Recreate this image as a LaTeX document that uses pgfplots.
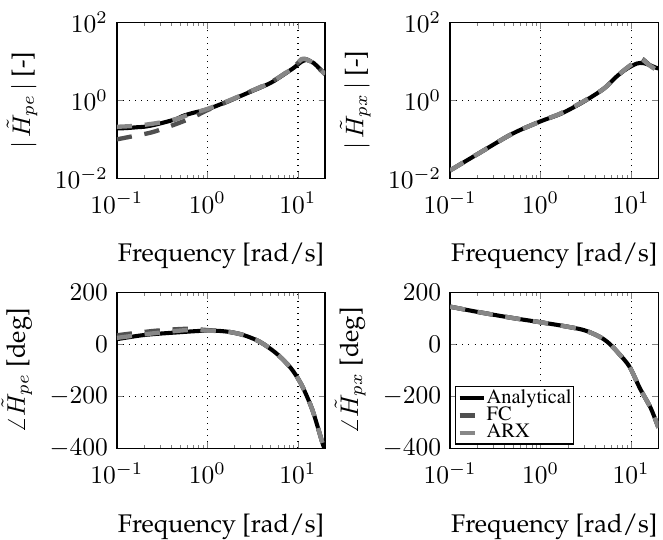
\documentclass[border=0pt]{standalone}
\usepackage[T1]{fontenc}
\renewcommand{\rmdefault}{ppl}
\usepackage{pgfplots}
\pgfplotsset{compat=1.18}
\definecolor{fcgray}{RGB}{80,80,80}
\definecolor{arxgray}{RGB}{135,135,135}
\tikzset{
  anaS/.style={black, line width=1.6pt},
  fcS/.style={fcgray, line width=1.7pt, dash pattern=on 6pt off 5pt},
  arxS/.style={arxgray, line width=1.7pt, dash pattern=on 6pt off 5pt},
}
\pgfplotsset{
  every axis/.append style={
    scale only axis, width=81.7pt, height=61.2pt,
    xmin=0.1, xmax=20,
    minor xtick={0.2,0.3,0.4,0.5,0.6,0.7,0.8,0.9,2,3,4,5,6,7,8,9,20},
    grid=major, major grid style={dotted, black, line width=0.5pt},
    tick align=inside, major tick length=2.5pt, minor tick length=1.5pt,
    axis line style={line width=0.6pt},
    xlabel style={yshift=-5pt},
    xticklabel style={yshift=-2pt},
  },
}
\begin{document}
\begin{tikzpicture}
\useasboundingbox (-45.8pt,8.75pt) rectangle (214.2pt,-203.0pt);
% top left
\begin{axis}[xmode=log, ymode=log, ymin=0.01, ymax=100, ytick={0.01,1,100}, xtick={0.1,1,10},
  anchor=north west, at={(0pt,0pt)}, xlabel={Frequency [rad/s]}, ylabel={$|\,\tilde{H}_{pe}\,|$ [-]}]
\addplot[anaS, smooth] coordinates {(0.1,0.19) (0.13,0.195) (0.17,0.205) (0.2,0.21) (0.25,0.23) (0.33,0.27) (0.45,0.33) (0.54,0.40) (0.7,0.48) (1,0.59) (1.66,0.93) (3,1.66) (5,2.8) (7,4.6) (9,6.8) (11,9.8) (12.6,10.8) (14.9,9.1) (17,6.8) (20,4.8)};
\addplot[fcS, smooth] coordinates {(0.1,0.10) (0.15,0.12) (0.24,0.15) (0.35,0.2) (0.5,0.27) (0.7,0.37) (1,0.56) (1.66,0.92) (3,1.7) (5,2.9) (7,4.7) (9,7.2) (11,11) (12.6,11.2) (15,8.7) (20,4.6)};
\addplot[arxS, smooth] coordinates {(0.1,0.21) (0.15,0.22) (0.2,0.235) (0.3,0.27) (0.45,0.33) (0.7,0.47) (1,0.6) (1.66,0.95) (3,1.7) (5,2.85) (7,4.7) (9,7) (11,11.5) (12.6,11) (15,8.8) (20,4.7)};
\end{axis}
% top right
\begin{axis}[xmode=log, ymode=log, ymin=0.01, ymax=100, ytick={0.01,1,100}, xtick={0.1,1,10},
  anchor=north west, at={(130.7pt,0pt)}, xlabel={Frequency [rad/s]}, ylabel={$|\,\tilde{H}_{px}\,|$ [-]}]
\addplot[anaS, smooth] coordinates {(0.1,0.016) (0.205,0.043) (0.48,0.137) (1,0.29) (1.7,0.46) (3,0.93) (5,2.0) (7,4.2) (9,6.5) (11.6,8.8) (13.7,9.0) (16,8.0) (19,6.8) (20,6.6)};
\addplot[fcS, smooth] coordinates {(0.1,0.016) (0.205,0.043) (0.48,0.137) (1,0.29) (1.7,0.47) (3,0.95) (5,2.0) (7,4.2) (9,6.8) (11.6,10.5) (13,12) (16,8.0) (20,5.6)};
\addplot[arxS, smooth] coordinates {(0.1,0.016) (0.205,0.043) (0.48,0.137) (1,0.29) (1.7,0.47) (3,0.95) (5,2.0) (7,4.2) (9,6.8) (11.6,10.5) (13,11.5) (16,7.8) (20,5.6)};
\end{axis}
% bottom left
\begin{axis}[xmode=log, ymin=-400, ymax=200, ytick={-400,-200,0,200}, xtick={0.1,1,10},
  anchor=north west, at={(0pt,-105.9pt)}, xlabel={Frequency [rad/s]}, ylabel={$\angle\tilde{H}_{pe}$ [deg]}]
\addplot[anaS, smooth] coordinates {(0.1,20) (0.2,36) (0.46,46) (1,53) (1.66,49) (2.5,36) (3.8,10) (5.8,-35) (8.4,-92) (11,-156) (14.5,-253) (19,-387) (20,-400)};
\addplot[fcS, smooth] coordinates {(0.1,35) (0.26,52) (0.6,60) (1,55) (1.66,49) (2.5,36) (3.8,10) (5.8,-35) (8.4,-92) (11,-156) (14.5,-253) (19,-387) (20,-400)};
\addplot[arxS, smooth] coordinates {(0.1,25) (0.26,43) (0.6,55) (1,53) (1.66,49) (2.5,36) (3.8,10) (5.8,-35) (8.4,-92) (11,-156) (14.5,-253) (19,-387) (20,-400)};
\end{axis}
% bottom right
\begin{axis}[xmode=log, ymin=-400, ymax=200, ytick={-400,-200,0,200}, xtick={0.1,1,10},
  anchor=north west, at={(130.7pt,-105.9pt)}, xlabel={Frequency [rad/s]}, ylabel={$\angle\tilde{H}_{px}$ [deg]},
  legend image code/.code={\draw[#1] (0pt,0pt) -- (9.8pt,0pt);},
  legend style={at={(axis description cs:0,0)}, anchor=south west, xshift=1.8pt, yshift=1.5pt,
    font=\fontfamily{ptm}\fontsize{8pt}{9pt}\selectfont,
    inner xsep=0.8pt, inner ysep=1pt, row sep=0pt,
    nodes={inner sep=0pt, text height=5.4pt, text depth=1.4pt},
    draw=black, line width=0.5pt, cells={anchor=west}}]
\addplot[anaS, smooth] coordinates {(0.1,145) (0.2,125) (0.48,102) (1,85) (1.7,72) (3,55) (4.5,29) (5.7,4) (7.3,-35) (9.6,-86) (12.5,-169) (16.5,-246) (20,-320)};
\addlegendentry{Analytical}
\addplot[fcS, smooth] coordinates {(0.1,145) (0.2,125) (0.48,102) (1,85) (1.7,72) (3,55) (4.5,29) (5.7,4) (7.3,-35) (9.6,-86) (12.5,-169) (16.5,-246) (20,-320)};
\addlegendentry{FC}
\addplot[arxS, smooth] coordinates {(0.1,145) (0.2,125) (0.48,102) (1,85) (1.7,72) (3,55) (4.5,29) (5.7,4) (7.3,-35) (9.6,-86) (12.5,-169) (16.5,-246) (20,-320)};
\addlegendentry{ARX}
\end{axis}
\end{tikzpicture}
\end{document}
